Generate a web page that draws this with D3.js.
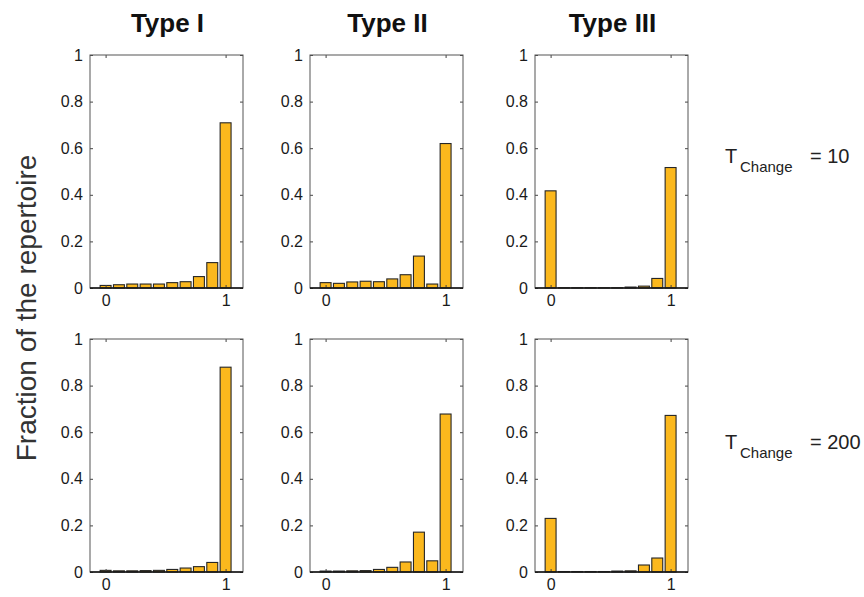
<!DOCTYPE html>
<html>
<head>
    <meta charset="utf-8">
    <title>Fraction of the repertoire</title>
    <script src="https://cdn.jsdelivr.net/npm/d3@7"></script>
    <style>
        body { margin: 0; background: #fff; }
        svg { display: block; font-family: Arial, "Liberation Sans", sans-serif; }
    </style>
</head>
<body>
<svg></svg>
<script>
    // bins (10 bars from 0 to 1)
    var bins = [0, 1, 2, 3, 4, 5, 6, 7, 8, 9].map(function(i) { return i / 9; });
    var typeNames = ["Type I", "Type II", "Type III"];
    var rowValues = ["10", "200"];
    var yTicks = [0, 0.2, 0.4, 0.6, 0.8, 1];
    var xTicks = [0, 1];

    // T_change = 10
    var typeI_10   = [0.011, 0.014, 0.017, 0.017, 0.017, 0.023, 0.027, 0.049, 0.109, 0.709];
    var typeII_10  = [0.023, 0.020, 0.026, 0.029, 0.027, 0.039, 0.057, 0.137, 0.017, 0.620];
    var typeIII_10 = [0.417, 0.001, 0.001, 0.001, 0.001, 0.001, 0.004, 0.008, 0.041, 0.517];
    // T_change = 200
    var typeI_200   = [0.007, 0.005, 0.005, 0.006, 0.007, 0.011, 0.017, 0.023, 0.041, 0.879];
    var typeII_200  = [0.004, 0.004, 0.005, 0.006, 0.011, 0.020, 0.043, 0.171, 0.048, 0.678];
    var typeIII_200 = [0.230, 0.002, 0.002, 0.002, 0.002, 0.004, 0.005, 0.030, 0.060, 0.672];

    var panels = [
        [typeI_10, typeII_10, typeIII_10],
        [typeI_200, typeII_200, typeIII_200]
    ];

    var w = 864, h = 597;
    var lefts = [90, 310, 535];
    var tops = [55, 339];
    var pw = 153, ph = 233;

    var svg = d3.select("svg").attr("width", w).attr("height", h);

    var x = d3.scaleLinear().domain([-0.13, 1.145]).range([0, pw]);
    var y = d3.scaleLinear().domain([0, 1]).range([ph, 0]);
    var barW = (x(bins[1]) - x(bins[0])) * 0.82;

    panels.forEach(function(row, r) {
        row.forEach(function(vals, c) {
            var g = svg.append("g")
                .attr("transform", "translate(" + lefts[c] + "," + tops[r] + ")");

            // bars
            g.selectAll("rect.bar")
                .data(vals)
                .enter()
                .append("rect")
                .attr("class", "bar")
                .attr("x", function(d, i) { return x(bins[i]) - barW / 2; })
                .attr("y", function(d) { return y(d); })
                .attr("width", barW)
                .attr("height", function(d) { return ph - y(d); })
                .attr("fill", "#fbb81d")
                .attr("stroke", "#262626")
                .attr("stroke-width", 1.1);

            // y axis on the left with inward ticks
            var yAxis = d3.axisLeft(y).tickValues(yTicks).tickSize(-3).tickPadding(7)
                .tickFormat(function(d) { return d === 0 || d === 1 ? d : d3.format(".1f")(d); });
            var ya = g.append("g").call(yAxis);
            ya.selectAll("text").attr("font-size", 16).attr("fill", "#1a1a1a");

            // ticks on the right side
            g.append("g").attr("transform", "translate(" + pw + ",0)")
                .call(d3.axisRight(y).tickValues(yTicks).tickSize(-3).tickFormat(""));

            // x axis
            var xa = g.append("g").attr("transform", "translate(0," + ph + ")")
                .call(d3.axisBottom(x).tickValues(xTicks).tickSize(-3).tickPadding(7)
                    .tickFormat(d3.format("d")));
            xa.selectAll("text").attr("font-size", 16).attr("fill", "#1a1a1a");
            g.append("g")
                .call(d3.axisTop(x).tickValues(xTicks).tickSize(-3).tickFormat(""));

            g.selectAll(".domain").remove();
            g.selectAll(".tick line").attr("stroke", "#444");

            // box
            g.append("rect")
                .attr("width", pw).attr("height", ph)
                .attr("fill", "none").attr("stroke", "#555").attr("stroke-width", 1);
            // heavier baseline
            g.append("line")
                .attr("x1", 0).attr("x2", pw)
                .attr("y1", ph).attr("y2", ph)
                .attr("stroke", "#111").attr("stroke-width", 1.6);
        });
    });

    // column titles
    svg.selectAll("text.title")
        .data(typeNames)
        .enter()
        .append("text")
        .attr("class", "title")
        .attr("x", function(d, i) { return lefts[i] + pw / 2 + 1; })
        .attr("y", 32)
        .attr("text-anchor", "middle")
        .attr("font-size", 26)
        .attr("font-weight", "bold")
        .attr("fill", "#111")
        .text(function(d) { return d; });

    // y label
    svg.append("text")
        .attr("transform", "translate(36,308) rotate(-90)")
        .attr("text-anchor", "middle")
        .attr("font-size", 28)
        .attr("fill", "#333")
        .text("Fraction of the repertoire");

    // row labels
    var rowY = [163, 449];
    rowValues.forEach(function(v, r) {
        var t = svg.append("text")
            .attr("y", rowY[r])
            .attr("font-size", 20)
            .attr("fill", "#222");
        t.append("tspan").attr("x", 725).text("T");
        t.append("tspan").attr("x", 740).attr("dy", 9).attr("font-size", 15).text("Change");
        t.append("tspan").attr("x", 810).attr("dy", -9).text("= " + v);
    });
</script>
</body>
</html>
